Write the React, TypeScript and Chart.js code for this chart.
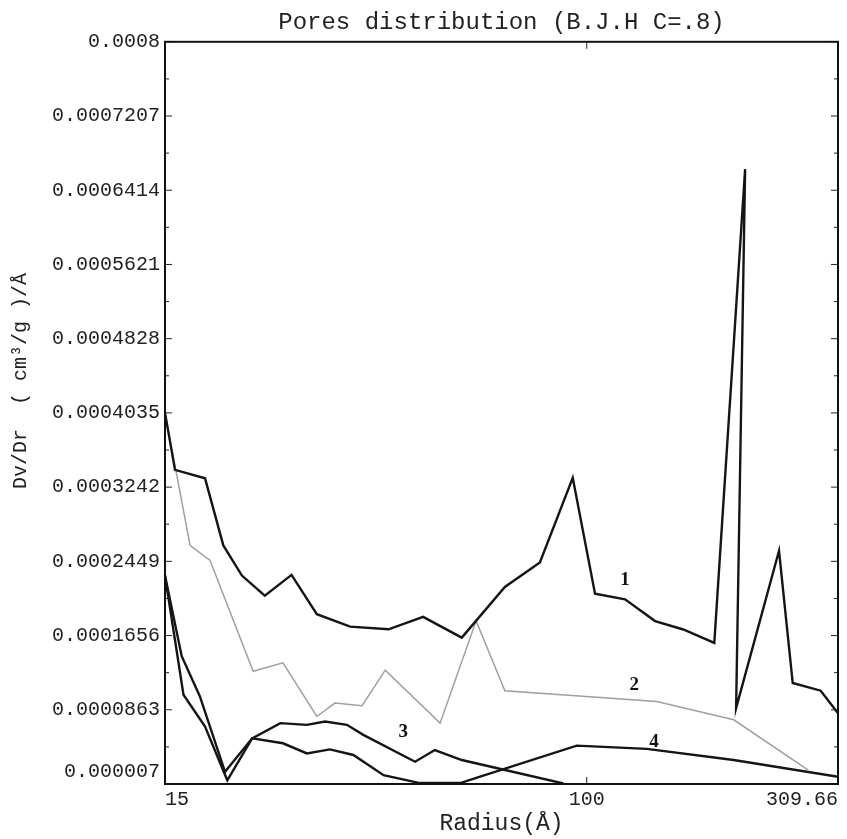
import React, { useEffect, useRef } from "react";
import { Chart, registerables } from "chart.js";

Chart.register(...registerables);

// ---- text ----
const TITLE = "Pores distribution (B.J.H C=.8)";
const X_TITLE = "Radius(Å)";
const Y_TITLE = "Dv/Dr  ( cm³/g )/Å";

// ---- ticks ----
const xTickValues = [15, 100, 309.66];
const xTickLabels = ["15", "100", "309.66"];
const yTickValues = [
  0.000007, 0.0000863, 0.0001656, 0.0002449, 0.0003242, 0.0004035,
  0.0004828, 0.0005621, 0.0006414, 0.0007207, 0.0008,
];
const yTickLabels = [
  "0.000007", "0.0000863", "0.0001656", "0.0002449", "0.0003242", "0.0004035",
  "0.0004828", "0.0005621", "0.0006414", "0.0007207", "0.0008",
];

// ---- series 1 ----
const s1Radius = [
  15, 15.69, 17.96, 19.5, 21.2, 23.5, 26.5, 29.7, 34.5, 41.0, 47.9, 57.0,
  69.2, 81.0, 93.9, 103.8, 118.8, 136, 154.4, 177.5, 203.9, 195.8, 237.5,
  252.6, 286.5, 309.66,
];
const s1Values = [
  0.0004035, 0.0003426, 0.0003336, 0.0002619, 0.0002297, 0.0002082,
  0.0002304, 0.0001884, 0.0001752, 0.0001723, 0.0001856, 0.0001634,
  0.0002175, 0.0002436, 0.0003341, 0.0002104, 0.0002043, 0.0001811,
  0.0001721, 0.0001578, 0.0006639, 0.0000881, 0.0002562, 0.0001149,
  0.0001067, 0.0000827,
];

// ---- series 2 ----
const s2Radius = [
  15, 16.79, 18.37, 22.3, 25.5, 29.7, 32.2, 36.4, 40.4, 51.7, 60.8, 69.2,
  137, 193.7, 270.9,
];
const s2Values = [
  0.0004035, 0.0002619, 0.0002458, 0.0001275, 0.0001365, 0.0000791,
  0.0000935, 0.0000906, 0.0001286, 0.000072, 0.0001813, 0.0001067,
  0.0000952, 0.0000756, 0.0000219,
];

// ---- series 3 ----
const s3Radius = [
  15, 16.17, 17.55, 19.65, 22.2, 25.2, 28.4, 30.8, 34.0, 36.6, 46.2, 50.5,
  57.0, 90.0,
];
const s3Values = [
  0.0002297, 0.0001436, 0.0001006, 0.00002, 0.0000558, 0.000072, 0.0000702,
  0.0000738, 0.0000702, 0.0000595, 0.0000308, 0.0000433, 0.0000326,
  0.0000076,
];

// ---- series 4 ----
const s4Radius = [
  15, 16.3, 17.96, 19.85, 22.2, 25.5, 28.4, 31.5, 35.0, 40.1, 47.2, 56.6,
  61.9, 95.6, 131, 193.7, 309.66,
];
const s4Values = [
  0.0002297, 0.0001024, 0.0000684, 0.000011, 0.0000558, 0.0000505,
  0.0000397, 0.000044, 0.000038, 0.0000164, 0.000008, 0.000008, 0.0000148,
  0.000048, 0.0000445, 0.0000327, 0.0000148,
];

// ---- curve number labels (data coordinates) ----
const curveLabelText = ["1", "2", "3", "4"];
const curveLabelRadius = [118.8, 123.8, 43.8, 135.3];
const curveLabelValue = [0.000225, 0.0001128, 0.0000626, 0.0000519];

const toPoints = (xs: number[], ys: number[]) =>
  xs.map((x, i) => ({ x, y: ys[i] }));

const framePlugin = {
  id: "frameAndLabels",
  afterDatasetsDraw(chart: any) {
    const { ctx, chartArea, scales } = chart;
    const { left, right, top, bottom } = chartArea;
    const ys = scales.y;
    const xs = scales.x;
    ctx.save();
    // inward tick marks on left / right
    ctx.strokeStyle = "#222";
    ctx.lineWidth = 1;
    for (let i = 0; i < yTickValues.length; i++) {
      const py = ys.getPixelForValue(yTickValues[i]);
      ctx.beginPath();
      ctx.moveTo(left, py);
      ctx.lineTo(left + 7, py);
      ctx.moveTo(right, py);
      ctx.lineTo(right - 7, py);
      ctx.stroke();
      if (i < yTickValues.length - 1) {
        const pm = ys.getPixelForValue((yTickValues[i] + yTickValues[i + 1]) / 2);
        ctx.beginPath();
        ctx.moveTo(left, pm);
        ctx.lineTo(left + 4, pm);
        ctx.moveTo(right, pm);
        ctx.lineTo(right - 4, pm);
        ctx.stroke();
      }
    }
    for (const v of xTickValues) {
      const px = xs.getPixelForValue(v);
      ctx.beginPath();
      ctx.moveTo(px, bottom);
      ctx.lineTo(px, bottom - 7);
      ctx.moveTo(px, top);
      ctx.lineTo(px, top + 7);
      ctx.stroke();
    }
    // frame
    ctx.strokeStyle = "#111";
    ctx.lineWidth = 2;
    ctx.strokeRect(left, top, right - left, bottom - top);
    // curve labels
    ctx.fillStyle = "#111";
    ctx.font = "bold 19px 'Liberation Serif', serif";
    ctx.textAlign = "center";
    ctx.textBaseline = "middle";
    for (let i = 0; i < curveLabelText.length; i++) {
      ctx.fillText(
        curveLabelText[i],
        xs.getPixelForValue(curveLabelRadius[i]),
        ys.getPixelForValue(curveLabelValue[i])
      );
    }
    // y-axis title
    ctx.fillStyle = "#222";
    ctx.font = "20px 'Liberation Mono', monospace";
    ctx.translate(21, (top + bottom) / 2 - 32);
    ctx.rotate(-Math.PI / 2);
    ctx.fillText(Y_TITLE, 0, 0);
    ctx.restore();
  },
};

export default function App() {
  const ref = useRef<HTMLCanvasElement | null>(null);

  useEffect(() => {
    if (!ref.current) return;
    const lineStyle = (color: string, width: number) => ({
      borderColor: color,
      backgroundColor: color,
      borderWidth: width,
      pointRadius: 0,
      tension: 0,
      fill: false,
    });
    const chart = new Chart(ref.current, {
      type: "line",
      data: {
        datasets: [
          { label: "1", data: toPoints(s1Radius, s1Values), ...lineStyle("#151515", 2.4) },
          { label: "2", data: toPoints(s2Radius, s2Values), ...lineStyle("#a0a0a0", 1.5) },
          { label: "3", data: toPoints(s3Radius, s3Values), ...lineStyle("#151515", 2.4) },
          { label: "4", data: toPoints(s4Radius, s4Values), ...lineStyle("#151515", 2.4) },
        ],
      },
      options: {
        animation: false,
        responsive: false,
        layout: { padding: { left: 0, right: 9, top: 0, bottom: 0 } },
        plugins: {
          legend: { display: false },
          tooltip: { enabled: false },
          title: {
            display: true,
            fullSize: false,
            text: TITLE,
            color: "#222",
            font: { family: "'Liberation Mono', monospace", size: 24, weight: "normal" },
            padding: { top: 8, bottom: 5 },
          },
        },
        scales: {
          x: {
            type: "logarithmic",
            min: 15,
            max: 309.66,
            afterBuildTicks: (scale: any) => {
              scale.ticks = xTickValues.map((v) => ({ value: v }));
            },
            afterFit: (scale: any) => {
              scale.height = 839 - 784;
            },
            grid: { display: false, drawTicks: false },
            border: { display: false },
            ticks: {
              autoSkip: false,
              maxRotation: 0,
              align: "inner",
              padding: 4,
              color: "#222",
              font: { family: "'Liberation Mono', monospace", size: 20 },
              callback: (value: any) => {
                const i = xTickValues.indexOf(Number(value));
                return i >= 0 ? xTickLabels[i] : "";
              },
            },
            title: {
              display: true,
              text: X_TITLE,
              color: "#222",
              font: { family: "'Liberation Mono', monospace", size: 23 },
              padding: { top: 0, bottom: 1 },
            },
          },
          y: {
            type: "linear",
            min: 0.000007,
            max: 0.0008,
            afterBuildTicks: (scale: any) => {
              scale.ticks = yTickValues.map((v) => ({ value: v }));
            },
            afterFit: (scale: any) => {
              scale.width = 165;
            },
            grid: { display: false, drawTicks: false },
            border: { display: false },
            ticks: {
              autoSkip: false,
              padding: 5,
              color: "#222",
              font: { family: "'Liberation Mono', monospace", size: 20 },
              callback: (_value: any, index: number) =>
                index === 0 ? [yTickLabels[0], ""] : yTickLabels[index],
            },
          },
        },
      },
      plugins: [framePlugin],
    } as any);
    return () => chart.destroy();
  }, []);

  return (
    <div style={{ position: "absolute", left: 0, top: 0, width: 847, height: 839, background: "#fff" }}>
      <canvas ref={ref} width={847} height={839} style={{ display: "block" }} />
    </div>
  );
}
